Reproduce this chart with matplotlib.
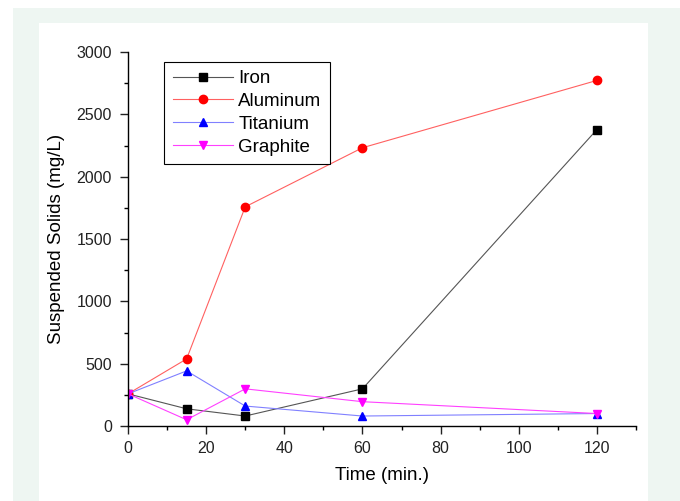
import numpy as np
import matplotlib.pyplot as plt
from matplotlib.patches import Rectangle
from matplotlib.ticker import MultipleLocator

plt.rcParams['font.family'] = ['Liberation Sans', 'DejaVu Sans']

# data
time = [0, 15, 30, 60, 120]
iron = [258, 138, 80, 298, 2378]
aluminum = [258, 538, 1758, 2232, 2772]
titanium = [258, 442, 160, 80, 100]
graphite = [258, 50, 298, 195, 100]

fig = plt.figure(figsize=(6.8, 5.01), dpi=100)

# page background: green frame + white panel
fig.patches.append(Rectangle((13/680, 0), 1 - 13/680, 1 - 8/501, transform=fig.transFigure,
                             facecolor='#eef6f2', edgecolor='none', zorder=-2))
fig.patches.append(Rectangle((39/680, 0), (648 - 39)/680, 1 - 23/501, transform=fig.transFigure,
                             facecolor='white', edgecolor='none', zorder=-1))

ax = fig.add_axes([128/680, 1 - 426/501, (636 - 128)/680, (426 - 52)/501])
ax.patch.set_alpha(0)

ax.plot(time, iron, color='#555555', lw=0.8, marker='s', ms=5.5, mfc='black', mec='black', label='Iron')
ax.plot(time, aluminum, color='#ff6060', lw=0.8, marker='o', ms=6, mfc='red', mec='red', label='Aluminum')
ax.plot(time, titanium, color='#8080ff', lw=0.8, marker='^', ms=6, mfc='blue', mec='blue', label='Titanium')
ax.plot(time, graphite, color='#ff40ff', lw=0.8, marker='v', ms=6, mfc='magenta', mec='magenta', label='Graphite')

ax.set_xlim(0, 130)
ax.set_ylim(0, 3000)
ax.xaxis.set_major_locator(MultipleLocator(20))
ax.xaxis.set_minor_locator(MultipleLocator(10))
ax.yaxis.set_major_locator(MultipleLocator(500))
ax.yaxis.set_minor_locator(MultipleLocator(250))

for s in ['top', 'right']:
    ax.spines[s].set_visible(False)
for s in ['left', 'bottom']:
    ax.spines[s].set_linewidth(1.0)

ax.tick_params(which='major', direction='out', length=5.5, width=1, labelsize=11.5, colors='#222222')
ax.tick_params(axis='x', which='major', pad=5)
ax.tick_params(axis='y', which='major', pad=6)
ax.tick_params(which='minor', direction='out', length=3, width=1)
ax.set_xlabel('Time (min.)', fontsize=13.5, labelpad=8)
ax.set_ylabel('Suspended Solids (mg/L)', fontsize=13.5, labelpad=8)

leg = ax.legend(loc='upper left', bbox_to_anchor=(0.071, 0.974), borderaxespad=0, fontsize=13.5,
                frameon=True, fancybox=False, edgecolor='black', framealpha=1,
                handlelength=3.2, borderpad=0.45, labelspacing=0.3, handletextpad=0.3)
leg.get_frame().set_linewidth(0.8)

fig.savefig('out.png', dpi=100)
